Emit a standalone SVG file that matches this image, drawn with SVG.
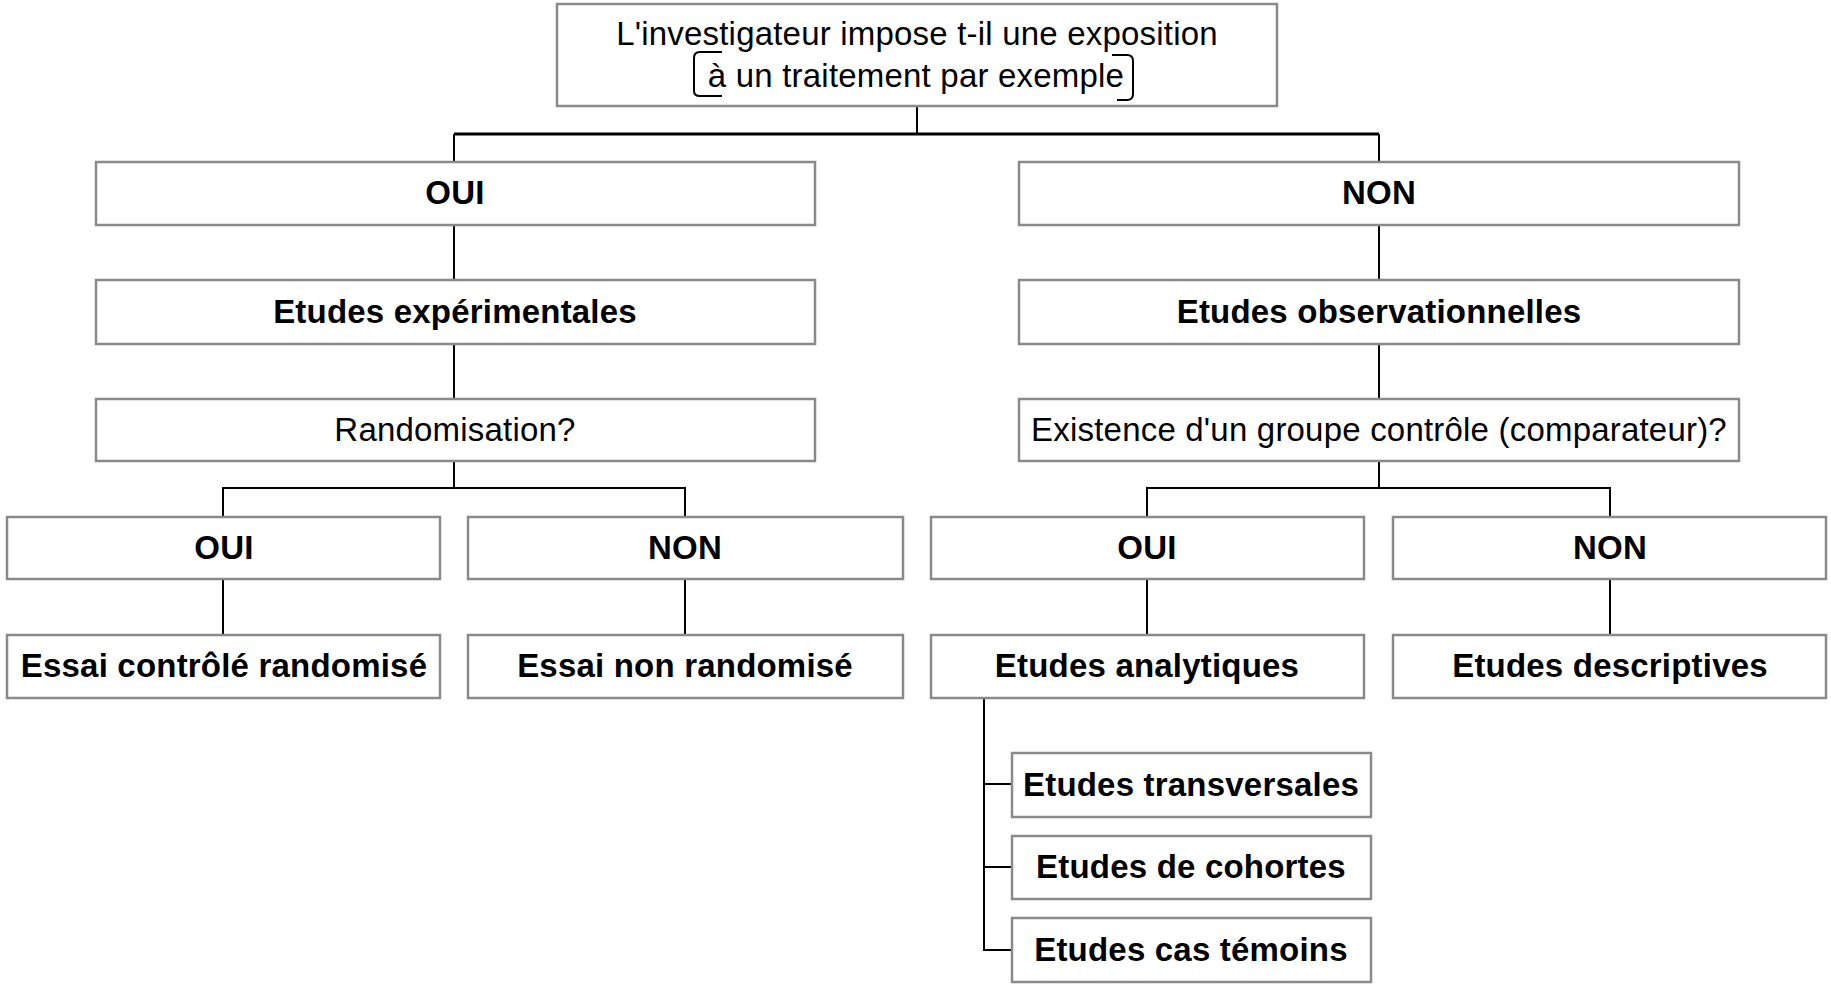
<svg xmlns="http://www.w3.org/2000/svg" width="1831" height="985" viewBox="0 0 1831 985">
  <style>
    .box { fill: #ffffff; stroke: #8a8a8a; stroke-width: 2.5; }
    .t { font-family: "Liberation Sans", Arial, sans-serif; font-size: 33px; letter-spacing: 0.2px; fill: #000; text-anchor: middle; }
    .b { font-weight: bold; }
    .wire { fill: none; stroke: #000; stroke-width: 2; }
    .bus { fill: none; stroke: #000; stroke-width: 3; }
  </style>
  <rect width="1831" height="985" fill="#ffffff"/>

  <!-- connectors -->
  <g id="connectors">
    <path class="wire" d="M917 106 V134"/>
    <path class="bus" d="M454 134 H1379"/>
    <path class="wire" d="M454 134 V162 M1379 134 V162"/>
    <path class="wire" d="M454 225 V280 M454 344 V399 M1379 225 V280 M1379 344 V399"/>
    <path class="wire" d="M454 461 V488 M223 517 V488 H685 V517"/>
    <path class="wire" d="M1379 461 V488 M1147 517 V488 H1610 V517"/>
    <path class="wire" d="M223 579 V635 M685 579 V635 M1147 579 V635 M1610 579 V635"/>
    <path class="wire" d="M984 698 V950 H1012 M984 784 H1012 M984 867 H1012"/>
  </g>

  <g id="question">
    <rect class="box" x="557" y="4" width="720" height="102"/>
    <text class="t" x="917" y="45">L'investigateur impose t-il une exposition</text>
    <text class="t" x="916" y="87">à un traitement par exemple</text>
    <path class="wire" d="M722 52 H700 Q694 52 694 58 V91 Q694 96 700 96 H722"/>
    <path class="wire" d="M1112 55 H1127 Q1133 55 1133 61 V94 Q1133 100 1127 100 H1117"/>
  </g>

  <g id="oui-1">
    <rect class="box" x="96" y="162" width="719" height="63"/>
    <text class="t b" x="455" y="204">OUI</text>
  </g>
  <g id="non-1">
    <rect class="box" x="1019" y="162" width="720" height="63"/>
    <text class="t b" x="1379" y="204">NON</text>
  </g>

  <g id="experimentales">
    <rect class="box" x="96" y="280" width="719" height="64"/>
    <text class="t b" x="455" y="323">Etudes expérimentales</text>
  </g>
  <g id="observationnelles">
    <rect class="box" x="1019" y="280" width="720" height="64"/>
    <text class="t b" x="1379" y="323">Etudes observationnelles</text>
  </g>

  <g id="randomisation">
    <rect class="box" x="96" y="399" width="719" height="62"/>
    <text class="t" x="455" y="441">Randomisation?</text>
  </g>
  <g id="groupe-controle">
    <rect class="box" x="1019" y="399" width="720" height="62"/>
    <text class="t" x="1379" y="441">Existence d'un groupe contrôle (comparateur)?</text>
  </g>

  <g id="oui-rando">
    <rect class="box" x="7" y="517" width="433" height="62"/>
    <text class="t b" x="224" y="559">OUI</text>
  </g>
  <g id="non-rando">
    <rect class="box" x="468" y="517" width="435" height="62"/>
    <text class="t b" x="685" y="559">NON</text>
  </g>
  <g id="oui-controle">
    <rect class="box" x="931" y="517" width="433" height="62"/>
    <text class="t b" x="1147" y="559">OUI</text>
  </g>
  <g id="non-controle">
    <rect class="box" x="1393" y="517" width="433" height="62"/>
    <text class="t b" x="1610" y="559">NON</text>
  </g>

  <g id="essai-randomise">
    <rect class="box" x="7" y="635" width="433" height="63"/>
    <text class="t b" x="224" y="677">Essai contrôlé randomisé</text>
  </g>
  <g id="essai-non-randomise">
    <rect class="box" x="468" y="635" width="435" height="63"/>
    <text class="t b" x="685" y="677">Essai non randomisé</text>
  </g>
  <g id="analytiques">
    <rect class="box" x="931" y="635" width="433" height="63"/>
    <text class="t b" x="1147" y="677">Etudes analytiques</text>
  </g>
  <g id="descriptives">
    <rect class="box" x="1393" y="635" width="433" height="63"/>
    <text class="t b" x="1610" y="677">Etudes descriptives</text>
  </g>

  <g id="transversales">
    <rect class="box" x="1012" y="753" width="359" height="64"/>
    <text class="t b" x="1191" y="796">Etudes transversales</text>
  </g>
  <g id="cohortes">
    <rect class="box" x="1012" y="836" width="359" height="63"/>
    <text class="t b" x="1191" y="878">Etudes de cohortes</text>
  </g>
  <g id="cas-temoins">
    <rect class="box" x="1012" y="918" width="359" height="64"/>
    <text class="t b" x="1191" y="961">Etudes cas témoins</text>
  </g>
</svg>
